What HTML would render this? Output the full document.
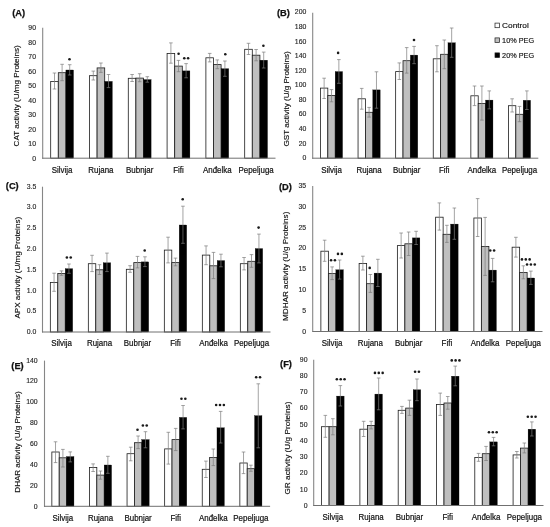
<!DOCTYPE html>
<html><head><meta charset="utf-8"><title>Figure</title>
<style>
html,body{margin:0;padding:0;background:#fff;}
svg{display:block;will-change:transform;opacity:0.9999;}
svg text{font-family:"Liberation Sans",sans-serif;}
.tk{font-size:7.4px;fill:#262626;text-anchor:end;stroke:#262626;stroke-width:0.15px;}
.lb{font-size:8.4px;fill:#111111;text-anchor:middle;stroke:#111;stroke-width:0.2px;}
.ti{font-size:8.0px;fill:#111111;text-anchor:middle;stroke:#111;stroke-width:0.15px;}
.tg{font-size:9.3px;fill:#111;font-weight:bold;stroke:#111;stroke-width:0.25px;}
.lg{font-size:7.9px;fill:#111;stroke:#111;stroke-width:0.15px;}
</style></head>
<body>
<svg width="550" height="527" viewBox="0 0 550 527">
<rect x="0" y="0" width="550" height="527" fill="#ffffff"/>
<g id="panelA">
<rect x="50.69" y="81.4" width="7.6" height="76.8" fill="#ffffff" stroke="#1c1c1c" stroke-width="0.8"/>
<rect x="58.3" y="72.7" width="7.6" height="85.5" fill="#bfbfbf" stroke="#1c1c1c" stroke-width="0.8"/>
<rect x="65.9" y="70" width="7.6" height="88.2" fill="#000000" stroke="#000" stroke-width="0.3"/>
<path d="M54.5 73V89M52.7 73H56.3M52.7 89H56.3" stroke="#7c7c7c" stroke-width="0.7" fill="none"/>
<path d="M62.1 64.3V80.7M60.3 64.3H63.9M60.3 80.7H63.9" stroke="#7c7c7c" stroke-width="0.7" fill="none"/>
<path d="M69.7 64.7V75M67.9 64.7H71.5M67.9 75H71.5" stroke="#7c7c7c" stroke-width="0.7" fill="none"/>
<rect x="89.49" y="75.7" width="7.6" height="82.5" fill="#ffffff" stroke="#1c1c1c" stroke-width="0.8"/>
<rect x="97.1" y="67.9" width="7.6" height="90.3" fill="#bfbfbf" stroke="#1c1c1c" stroke-width="0.8"/>
<rect x="104.7" y="81.4" width="7.6" height="76.8" fill="#000000" stroke="#000" stroke-width="0.3"/>
<path d="M93.3 71.1V80M91.5 71.1H95.1M91.5 80H95.1" stroke="#7c7c7c" stroke-width="0.7" fill="none"/>
<path d="M100.9 63V72.4M99.1 63H102.7M99.1 72.4H102.7" stroke="#7c7c7c" stroke-width="0.7" fill="none"/>
<path d="M108.5 74.5V87.6M106.7 74.5H110.3M106.7 87.6H110.3" stroke="#7c7c7c" stroke-width="0.7" fill="none"/>
<rect x="128.29" y="78.3" width="7.6" height="79.9" fill="#ffffff" stroke="#1c1c1c" stroke-width="0.8"/>
<rect x="135.9" y="78.1" width="7.6" height="80.1" fill="#bfbfbf" stroke="#1c1c1c" stroke-width="0.8"/>
<rect x="143.5" y="79.6" width="7.6" height="78.6" fill="#000000" stroke="#000" stroke-width="0.3"/>
<path d="M132.1 74.5V81.5M130.3 74.5H133.9M130.3 81.5H133.9" stroke="#7c7c7c" stroke-width="0.7" fill="none"/>
<path d="M139.7 73.7V81.7M137.9 73.7H141.5M137.9 81.7H141.5" stroke="#7c7c7c" stroke-width="0.7" fill="none"/>
<path d="M147.3 76.7V82.2M145.5 76.7H149.1M145.5 82.2H149.1" stroke="#7c7c7c" stroke-width="0.7" fill="none"/>
<rect x="167.09" y="53.5" width="7.6" height="104.7" fill="#ffffff" stroke="#1c1c1c" stroke-width="0.8"/>
<rect x="174.7" y="66.1" width="7.6" height="92.1" fill="#bfbfbf" stroke="#1c1c1c" stroke-width="0.8"/>
<rect x="182.3" y="70.9" width="7.6" height="87.3" fill="#000000" stroke="#000" stroke-width="0.3"/>
<path d="M170.9 42.9V63.2M169.1 42.9H172.7M169.1 63.2H172.7" stroke="#7c7c7c" stroke-width="0.7" fill="none"/>
<path d="M178.5 60.4V71.7M176.7 60.4H180.3M176.7 71.7H180.3" stroke="#7c7c7c" stroke-width="0.7" fill="none"/>
<path d="M186.1 63.6V77.8M184.3 63.6H187.9M184.3 77.8H187.9" stroke="#7c7c7c" stroke-width="0.7" fill="none"/>
<rect x="205.89" y="57.8" width="7.6" height="100.4" fill="#ffffff" stroke="#1c1c1c" stroke-width="0.8"/>
<rect x="213.5" y="64.6" width="7.6" height="93.6" fill="#bfbfbf" stroke="#1c1c1c" stroke-width="0.8"/>
<rect x="221.1" y="68.7" width="7.6" height="89.5" fill="#000000" stroke="#000" stroke-width="0.3"/>
<path d="M209.7 53.4V61.9M207.9 53.4H211.5M207.9 61.9H211.5" stroke="#7c7c7c" stroke-width="0.7" fill="none"/>
<path d="M217.3 59.9V68.7M215.5 59.9H219.1M215.5 68.7H219.1" stroke="#7c7c7c" stroke-width="0.7" fill="none"/>
<path d="M224.9 61V76.3M223.1 61H226.7M223.1 76.3H226.7" stroke="#7c7c7c" stroke-width="0.7" fill="none"/>
<rect x="244.69" y="49.3" width="7.6" height="108.9" fill="#ffffff" stroke="#1c1c1c" stroke-width="0.8"/>
<rect x="252.3" y="55.2" width="7.6" height="103" fill="#bfbfbf" stroke="#1c1c1c" stroke-width="0.8"/>
<rect x="259.9" y="60.2" width="7.6" height="98" fill="#000000" stroke="#000" stroke-width="0.3"/>
<path d="M248.5 43.3V54.5M246.7 43.3H250.3M246.7 54.5H250.3" stroke="#7c7c7c" stroke-width="0.7" fill="none"/>
<path d="M256.1 49.5V60.8M254.3 49.5H257.9M254.3 60.8H257.9" stroke="#7c7c7c" stroke-width="0.7" fill="none"/>
<path d="M263.7 52.1V68M261.9 52.1H265.5M261.9 68H265.5" stroke="#7c7c7c" stroke-width="0.7" fill="none"/>
<path d="M42.7 27.8V158.7" stroke="#868686" stroke-width="1.1" fill="none"/>
<path d="M42.25 158.2H275.5" stroke="#707070" stroke-width="1" fill="none"/>
<text class="tk" transform="translate(36 161) scale(0.93 1)">0</text>
<text class="tk" transform="translate(36 146.48) scale(0.93 1)">10</text>
<text class="tk" transform="translate(36 131.96) scale(0.93 1)">20</text>
<text class="tk" transform="translate(36 117.43) scale(0.93 1)">30</text>
<text class="tk" transform="translate(36 102.91) scale(0.93 1)">40</text>
<text class="tk" transform="translate(36 88.39) scale(0.93 1)">50</text>
<text class="tk" transform="translate(36 73.87) scale(0.93 1)">60</text>
<text class="tk" transform="translate(36 59.34) scale(0.93 1)">70</text>
<text class="tk" transform="translate(36 44.82) scale(0.93 1)">80</text>
<text class="tk" transform="translate(36 30.3) scale(0.93 1)">90</text>
<text class="lb" transform="translate(62.1 173.2) scale(0.945 1)">Silvija</text>
<text class="lb" transform="translate(100.9 173.2) scale(0.945 1)">Rujana</text>
<text class="lb" transform="translate(139.7 173.2) scale(0.945 1)">Bubnjar</text>
<text class="lb" transform="translate(178.5 173.2) scale(0.945 1)">Fifi</text>
<text class="lb" transform="translate(217.3 173.2) scale(0.945 1)">Anđelka</text>
<text class="lb" transform="translate(256.1 173.2) scale(0.945 1)">Pepeljuga</text>
<text class="ti" textLength="101" lengthAdjust="spacingAndGlyphs" transform="translate(19.1 95.9) rotate(-90)">CAT activity (U/mg Proteins)</text>
<text class="tg" x="12.2" y="15.6">(A)</text>
<circle cx="69.5" cy="59.3" r="1.3" fill="#1a1a1a"/>
<circle cx="178.6" cy="53.8" r="1.3" fill="#1a1a1a"/>
<circle cx="184.27" cy="58.2" r="1.3" fill="#1a1a1a"/>
<circle cx="188.12" cy="58.2" r="1.3" fill="#1a1a1a"/>
<circle cx="225.3" cy="54.3" r="1.3" fill="#1a1a1a"/>
<circle cx="263.4" cy="45.7" r="1.3" fill="#1a1a1a"/>
</g>
<g id="panelB">
<rect x="320.45" y="88.1" width="7.37" height="70.1" fill="#ffffff" stroke="#1c1c1c" stroke-width="0.8"/>
<rect x="327.82" y="95.5" width="7.37" height="62.7" fill="#bfbfbf" stroke="#1c1c1c" stroke-width="0.8"/>
<rect x="335.18" y="71.6" width="7.37" height="86.6" fill="#000000" stroke="#000" stroke-width="0.3"/>
<path d="M324.13 78.2V98.5M322.33 78.2H325.93M322.33 98.5H325.93" stroke="#7c7c7c" stroke-width="0.7" fill="none"/>
<path d="M331.5 89.6V101.8M329.7 89.6H333.3M329.7 101.8H333.3" stroke="#7c7c7c" stroke-width="0.7" fill="none"/>
<path d="M338.87 59.6V83.3M337.07 59.6H340.67M337.07 83.3H340.67" stroke="#7c7c7c" stroke-width="0.7" fill="none"/>
<rect x="358.05" y="98.8" width="7.37" height="59.4" fill="#ffffff" stroke="#1c1c1c" stroke-width="0.8"/>
<rect x="365.42" y="112.3" width="7.37" height="45.9" fill="#bfbfbf" stroke="#1c1c1c" stroke-width="0.8"/>
<rect x="372.78" y="89.9" width="7.37" height="68.3" fill="#000000" stroke="#000" stroke-width="0.3"/>
<path d="M361.73 88.4V109.2M359.93 88.4H363.53M359.93 109.2H363.53" stroke="#7c7c7c" stroke-width="0.7" fill="none"/>
<path d="M369.1 107.4V117.1M367.3 107.4H370.9M367.3 117.1H370.9" stroke="#7c7c7c" stroke-width="0.7" fill="none"/>
<path d="M376.47 71.8V108.2M374.67 71.8H378.27M374.67 108.2H378.27" stroke="#7c7c7c" stroke-width="0.7" fill="none"/>
<rect x="395.65" y="71.6" width="7.37" height="86.6" fill="#ffffff" stroke="#1c1c1c" stroke-width="0.8"/>
<rect x="403.02" y="60.7" width="7.37" height="97.5" fill="#bfbfbf" stroke="#1c1c1c" stroke-width="0.8"/>
<rect x="410.38" y="55.1" width="7.37" height="103.1" fill="#000000" stroke="#000" stroke-width="0.3"/>
<path d="M399.33 62.9V79.5M397.53 62.9H401.13M397.53 79.5H401.13" stroke="#7c7c7c" stroke-width="0.7" fill="none"/>
<path d="M406.7 47.6V73.1M404.9 47.6H408.5M404.9 73.1H408.5" stroke="#7c7c7c" stroke-width="0.7" fill="none"/>
<path d="M414.07 46.4V63.7M412.27 46.4H415.87M412.27 63.7H415.87" stroke="#7c7c7c" stroke-width="0.7" fill="none"/>
<rect x="433.25" y="58.8" width="7.37" height="99.4" fill="#ffffff" stroke="#1c1c1c" stroke-width="0.8"/>
<rect x="440.62" y="54.3" width="7.37" height="103.9" fill="#bfbfbf" stroke="#1c1c1c" stroke-width="0.8"/>
<rect x="447.98" y="42.8" width="7.37" height="115.4" fill="#000000" stroke="#000" stroke-width="0.3"/>
<path d="M436.93 45.7V71.8M435.13 45.7H438.73M435.13 71.8H438.73" stroke="#7c7c7c" stroke-width="0.7" fill="none"/>
<path d="M444.3 40V68.7M442.5 40H446.1M442.5 68.7H446.1" stroke="#7c7c7c" stroke-width="0.7" fill="none"/>
<path d="M451.67 28V57.3M449.87 28H453.47M449.87 57.3H453.47" stroke="#7c7c7c" stroke-width="0.7" fill="none"/>
<rect x="470.85" y="95.8" width="7.37" height="62.4" fill="#ffffff" stroke="#1c1c1c" stroke-width="0.8"/>
<rect x="478.22" y="103.4" width="7.37" height="54.8" fill="#bfbfbf" stroke="#1c1c1c" stroke-width="0.8"/>
<rect x="485.58" y="100.1" width="7.37" height="58.1" fill="#000000" stroke="#000" stroke-width="0.3"/>
<path d="M474.53 86V105.6M472.73 86H476.33M472.73 105.6H476.33" stroke="#7c7c7c" stroke-width="0.7" fill="none"/>
<path d="M481.9 86V120.1M480.1 86H483.7M480.1 120.1H483.7" stroke="#7c7c7c" stroke-width="0.7" fill="none"/>
<path d="M489.27 90.9V108.9M487.47 90.9H491.07M487.47 108.9H491.07" stroke="#7c7c7c" stroke-width="0.7" fill="none"/>
<rect x="508.45" y="105.7" width="7.37" height="52.5" fill="#ffffff" stroke="#1c1c1c" stroke-width="0.8"/>
<rect x="515.82" y="114.3" width="7.37" height="43.9" fill="#bfbfbf" stroke="#1c1c1c" stroke-width="0.8"/>
<rect x="523.18" y="100.3" width="7.37" height="57.9" fill="#000000" stroke="#000" stroke-width="0.3"/>
<path d="M512.13 98.8V112M510.33 98.8H513.93M510.33 112H513.93" stroke="#7c7c7c" stroke-width="0.7" fill="none"/>
<path d="M519.5 106.4V121.7M517.7 106.4H521.3M517.7 121.7H521.3" stroke="#7c7c7c" stroke-width="0.7" fill="none"/>
<path d="M526.87 90.9V109.5M525.07 90.9H528.67M525.07 109.5H528.67" stroke="#7c7c7c" stroke-width="0.7" fill="none"/>
<path d="M312.7 12.8V158.7" stroke="#868686" stroke-width="1.1" fill="none"/>
<path d="M312.25 158.2H538.3" stroke="#707070" stroke-width="1" fill="none"/>
<text class="tk" transform="translate(306.3 160.1) scale(0.93 1)">0</text>
<text class="tk" transform="translate(306.3 145.53) scale(0.93 1)">20</text>
<text class="tk" transform="translate(306.3 130.96) scale(0.93 1)">40</text>
<text class="tk" transform="translate(306.3 116.39) scale(0.93 1)">60</text>
<text class="tk" transform="translate(306.3 101.82) scale(0.93 1)">80</text>
<text class="tk" transform="translate(306.3 87.25) scale(0.93 1)">100</text>
<text class="tk" transform="translate(306.3 72.68) scale(0.93 1)">120</text>
<text class="tk" transform="translate(306.3 58.11) scale(0.93 1)">140</text>
<text class="tk" transform="translate(306.3 43.54) scale(0.93 1)">160</text>
<text class="tk" transform="translate(306.3 28.97) scale(0.93 1)">180</text>
<text class="tk" transform="translate(306.3 14.4) scale(0.93 1)">200</text>
<text class="lb" transform="translate(331.5 173.2) scale(0.945 1)">Silvija</text>
<text class="lb" transform="translate(369.1 173.2) scale(0.945 1)">Rujana</text>
<text class="lb" transform="translate(406.7 173.2) scale(0.945 1)">Bubnjar</text>
<text class="lb" transform="translate(444.3 173.2) scale(0.945 1)">Fifi</text>
<text class="lb" transform="translate(481.9 173.2) scale(0.945 1)">Anđelka</text>
<text class="lb" transform="translate(519.5 173.2) scale(0.945 1)">Pepeljuga</text>
<text class="ti" textLength="95.2" lengthAdjust="spacingAndGlyphs" transform="translate(288.5 98.9) rotate(-90)">GST activity (U/g Proteins)</text>
<text class="tg" x="277" y="15.9">(B)</text>
<circle cx="338.1" cy="52.9" r="1.3" fill="#1a1a1a"/>
<circle cx="414" cy="40" r="1.3" fill="#1a1a1a"/>
</g>
<g id="panelC">
<rect x="50.33" y="282.4" width="7.45" height="49.6" fill="#ffffff" stroke="#1c1c1c" stroke-width="0.8"/>
<rect x="57.78" y="273.5" width="7.45" height="58.5" fill="#bfbfbf" stroke="#1c1c1c" stroke-width="0.8"/>
<rect x="65.22" y="268.7" width="7.45" height="63.3" fill="#000000" stroke="#000" stroke-width="0.3"/>
<path d="M54.05 273.2V291.3M52.25 273.2H55.85M52.25 291.3H55.85" stroke="#7c7c7c" stroke-width="0.7" fill="none"/>
<path d="M61.5 270.9V275.3M59.7 270.9H63.3M59.7 275.3H63.3" stroke="#7c7c7c" stroke-width="0.7" fill="none"/>
<path d="M68.95 264V273.3M67.15 264H70.75M67.15 273.3H70.75" stroke="#7c7c7c" stroke-width="0.7" fill="none"/>
<rect x="88.33" y="263.7" width="7.45" height="68.3" fill="#ffffff" stroke="#1c1c1c" stroke-width="0.8"/>
<rect x="95.78" y="269.8" width="7.45" height="62.2" fill="#bfbfbf" stroke="#1c1c1c" stroke-width="0.8"/>
<rect x="103.22" y="262.8" width="7.45" height="69.2" fill="#000000" stroke="#000" stroke-width="0.3"/>
<path d="M92.05 255.3V271.6M90.25 255.3H93.85M90.25 271.6H93.85" stroke="#7c7c7c" stroke-width="0.7" fill="none"/>
<path d="M99.5 264.7V274.5M97.7 264.7H101.3M97.7 274.5H101.3" stroke="#7c7c7c" stroke-width="0.7" fill="none"/>
<path d="M106.95 253.1V271.6M105.15 253.1H108.75M105.15 271.6H108.75" stroke="#7c7c7c" stroke-width="0.7" fill="none"/>
<rect x="126.33" y="269.3" width="7.45" height="62.7" fill="#ffffff" stroke="#1c1c1c" stroke-width="0.8"/>
<rect x="133.78" y="262.6" width="7.45" height="69.4" fill="#bfbfbf" stroke="#1c1c1c" stroke-width="0.8"/>
<rect x="141.22" y="261.9" width="7.45" height="70.1" fill="#000000" stroke="#000" stroke-width="0.3"/>
<path d="M130.05 265.7V272.3M128.25 265.7H131.85M128.25 272.3H131.85" stroke="#7c7c7c" stroke-width="0.7" fill="none"/>
<path d="M137.5 256.4V267.9M135.7 256.4H139.3M135.7 267.9H139.3" stroke="#7c7c7c" stroke-width="0.7" fill="none"/>
<path d="M144.95 256.8V266.6M143.15 256.8H146.75M143.15 266.6H146.75" stroke="#7c7c7c" stroke-width="0.7" fill="none"/>
<rect x="164.33" y="250.1" width="7.45" height="81.9" fill="#ffffff" stroke="#1c1c1c" stroke-width="0.8"/>
<rect x="171.78" y="262.6" width="7.45" height="69.4" fill="#bfbfbf" stroke="#1c1c1c" stroke-width="0.8"/>
<rect x="179.22" y="225" width="7.45" height="107" fill="#000000" stroke="#000" stroke-width="0.3"/>
<path d="M168.05 237.2V262.9M166.25 237.2H169.85M166.25 262.9H169.85" stroke="#7c7c7c" stroke-width="0.7" fill="none"/>
<path d="M175.5 258.1V265.8M173.7 258.1H177.3M173.7 265.8H177.3" stroke="#7c7c7c" stroke-width="0.7" fill="none"/>
<path d="M182.95 206.2V243.3M181.15 206.2H184.75M181.15 243.3H184.75" stroke="#7c7c7c" stroke-width="0.7" fill="none"/>
<rect x="202.33" y="255.1" width="7.45" height="76.9" fill="#ffffff" stroke="#1c1c1c" stroke-width="0.8"/>
<rect x="209.78" y="265.8" width="7.45" height="66.2" fill="#bfbfbf" stroke="#1c1c1c" stroke-width="0.8"/>
<rect x="217.22" y="260.6" width="7.45" height="71.4" fill="#000000" stroke="#000" stroke-width="0.3"/>
<path d="M206.05 245.9V264.7M204.25 245.9H207.85M204.25 264.7H207.85" stroke="#7c7c7c" stroke-width="0.7" fill="none"/>
<path d="M213.5 252.4V278.6M211.7 252.4H215.3M211.7 278.6H215.3" stroke="#7c7c7c" stroke-width="0.7" fill="none"/>
<path d="M220.95 254.2V266.8M219.15 254.2H222.75M219.15 266.8H222.75" stroke="#7c7c7c" stroke-width="0.7" fill="none"/>
<rect x="240.33" y="263.7" width="7.45" height="68.3" fill="#ffffff" stroke="#1c1c1c" stroke-width="0.8"/>
<rect x="247.78" y="261.3" width="7.45" height="70.7" fill="#bfbfbf" stroke="#1c1c1c" stroke-width="0.8"/>
<rect x="255.22" y="248.6" width="7.45" height="83.4" fill="#000000" stroke="#000" stroke-width="0.3"/>
<path d="M244.05 257.5V269.9M242.25 257.5H245.85M242.25 269.9H245.85" stroke="#7c7c7c" stroke-width="0.7" fill="none"/>
<path d="M251.5 254.6V267.3M249.7 254.6H253.3M249.7 267.3H253.3" stroke="#7c7c7c" stroke-width="0.7" fill="none"/>
<path d="M258.95 234.1V262.9M257.15 234.1H260.75M257.15 262.9H260.75" stroke="#7c7c7c" stroke-width="0.7" fill="none"/>
<path d="M42.5 186.7V332.5" stroke="#868686" stroke-width="1.1" fill="none"/>
<path d="M42.05 332H270.5" stroke="#707070" stroke-width="1" fill="none"/>
<text class="tk" transform="translate(36.3 334.1) scale(0.93 1)">0.0</text>
<text class="tk" transform="translate(36.3 313.3) scale(0.93 1)">0.5</text>
<text class="tk" transform="translate(36.3 292.5) scale(0.93 1)">1.0</text>
<text class="tk" transform="translate(36.3 271.7) scale(0.93 1)">1.5</text>
<text class="tk" transform="translate(36.3 250.9) scale(0.93 1)">2.0</text>
<text class="tk" transform="translate(36.3 230.1) scale(0.93 1)">2.5</text>
<text class="tk" transform="translate(36.3 209.3) scale(0.93 1)">3.0</text>
<text class="tk" transform="translate(36.3 188.5) scale(0.93 1)">3.5</text>
<text class="lb" transform="translate(61.5 345.9) scale(0.945 1)">Silvija</text>
<text class="lb" transform="translate(99.5 345.9) scale(0.945 1)">Rujana</text>
<text class="lb" transform="translate(137.5 345.9) scale(0.945 1)">Bubnjar</text>
<text class="lb" transform="translate(175.5 345.9) scale(0.945 1)">Fifi</text>
<text class="lb" transform="translate(213.5 345.9) scale(0.945 1)">Anđelka</text>
<text class="lb" transform="translate(251.5 345.9) scale(0.945 1)">Pepeljuga</text>
<text class="ti" textLength="101.6" lengthAdjust="spacingAndGlyphs" transform="translate(20.4 267.7) rotate(-90)">APX activity (U/mg Proteins)</text>
<text class="tg" x="5.8" y="189.4">(C)</text>
<circle cx="66.88" cy="257.5" r="1.3" fill="#1a1a1a"/>
<circle cx="70.72" cy="257.5" r="1.3" fill="#1a1a1a"/>
<circle cx="144.7" cy="250.5" r="1.3" fill="#1a1a1a"/>
<circle cx="182.7" cy="199.2" r="1.3" fill="#1a1a1a"/>
<circle cx="258.6" cy="227.6" r="1.3" fill="#1a1a1a"/>
</g>
<g id="panelD">
<rect x="320.88" y="251.2" width="7.5" height="80.3" fill="#ffffff" stroke="#1c1c1c" stroke-width="0.8"/>
<rect x="328.38" y="273.6" width="7.5" height="57.9" fill="#bfbfbf" stroke="#1c1c1c" stroke-width="0.8"/>
<rect x="335.87" y="269.8" width="7.5" height="61.7" fill="#000000" stroke="#000" stroke-width="0.3"/>
<path d="M324.63 240.2V261.3M322.83 240.2H326.43M322.83 261.3H326.43" stroke="#7c7c7c" stroke-width="0.7" fill="none"/>
<path d="M332.12 266.9V279.6M330.32 266.9H333.93M330.32 279.6H333.93" stroke="#7c7c7c" stroke-width="0.7" fill="none"/>
<path d="M339.62 260V279.1M337.82 260H341.42M337.82 279.1H341.42" stroke="#7c7c7c" stroke-width="0.7" fill="none"/>
<rect x="359.13" y="263.4" width="7.5" height="68.1" fill="#ffffff" stroke="#1c1c1c" stroke-width="0.8"/>
<rect x="366.63" y="283.7" width="7.5" height="47.8" fill="#bfbfbf" stroke="#1c1c1c" stroke-width="0.8"/>
<rect x="374.12" y="273.1" width="7.5" height="58.4" fill="#000000" stroke="#000" stroke-width="0.3"/>
<path d="M362.88 256.2V270M361.08 256.2H364.68M361.08 270H364.68" stroke="#7c7c7c" stroke-width="0.7" fill="none"/>
<path d="M370.38 274.5V292.4M368.57 274.5H372.18M368.57 292.4H372.18" stroke="#7c7c7c" stroke-width="0.7" fill="none"/>
<path d="M377.87 259.3V286.5M376.07 259.3H379.67M376.07 286.5H379.67" stroke="#7c7c7c" stroke-width="0.7" fill="none"/>
<rect x="397.38" y="245.6" width="7.5" height="85.9" fill="#ffffff" stroke="#1c1c1c" stroke-width="0.8"/>
<rect x="404.88" y="243.8" width="7.5" height="87.7" fill="#bfbfbf" stroke="#1c1c1c" stroke-width="0.8"/>
<rect x="412.37" y="237.9" width="7.5" height="93.6" fill="#000000" stroke="#000" stroke-width="0.3"/>
<path d="M401.13 233V258M399.33 233H402.93M399.33 258H402.93" stroke="#7c7c7c" stroke-width="0.7" fill="none"/>
<path d="M408.62 232V255.5M406.82 232H410.43M406.82 255.5H410.43" stroke="#7c7c7c" stroke-width="0.7" fill="none"/>
<path d="M416.12 231.3V244.5M414.32 231.3H417.92M414.32 244.5H417.92" stroke="#7c7c7c" stroke-width="0.7" fill="none"/>
<rect x="435.63" y="217.2" width="7.5" height="114.3" fill="#ffffff" stroke="#1c1c1c" stroke-width="0.8"/>
<rect x="443.13" y="234.3" width="7.5" height="97.2" fill="#bfbfbf" stroke="#1c1c1c" stroke-width="0.8"/>
<rect x="450.62" y="224.1" width="7.5" height="107.4" fill="#000000" stroke="#000" stroke-width="0.3"/>
<path d="M439.38 202.9V230.1M437.58 202.9H441.18M437.58 230.1H441.18" stroke="#7c7c7c" stroke-width="0.7" fill="none"/>
<path d="M446.88 225.3V242.4M445.07 225.3H448.68M445.07 242.4H448.68" stroke="#7c7c7c" stroke-width="0.7" fill="none"/>
<path d="M454.37 208V239.3M452.57 208H456.17M452.57 239.3H456.17" stroke="#7c7c7c" stroke-width="0.7" fill="none"/>
<rect x="473.88" y="218" width="7.5" height="113.5" fill="#ffffff" stroke="#1c1c1c" stroke-width="0.8"/>
<rect x="481.38" y="246.5" width="7.5" height="85" fill="#bfbfbf" stroke="#1c1c1c" stroke-width="0.8"/>
<rect x="488.87" y="270.1" width="7.5" height="61.4" fill="#000000" stroke="#000" stroke-width="0.3"/>
<path d="M477.63 198.6V236.5M475.83 198.6H479.43M475.83 236.5H479.43" stroke="#7c7c7c" stroke-width="0.7" fill="none"/>
<path d="M485.12 217.4V275.4M483.32 217.4H486.93M483.32 275.4H486.93" stroke="#7c7c7c" stroke-width="0.7" fill="none"/>
<path d="M492.62 258.4V281.8M490.82 258.4H494.42M490.82 281.8H494.42" stroke="#7c7c7c" stroke-width="0.7" fill="none"/>
<rect x="512.13" y="247.2" width="7.5" height="84.3" fill="#ffffff" stroke="#1c1c1c" stroke-width="0.8"/>
<rect x="519.63" y="272.4" width="7.5" height="59.1" fill="#bfbfbf" stroke="#1c1c1c" stroke-width="0.8"/>
<rect x="527.12" y="278" width="7.5" height="53.5" fill="#000000" stroke="#000" stroke-width="0.3"/>
<path d="M515.88 237.3V257.1M514.08 237.3H517.68M514.08 257.1H517.68" stroke="#7c7c7c" stroke-width="0.7" fill="none"/>
<path d="M523.38 265.8V278.8M521.58 265.8H525.17M521.58 278.8H525.17" stroke="#7c7c7c" stroke-width="0.7" fill="none"/>
<path d="M530.87 271.1V284.4M529.07 271.1H532.67M529.07 284.4H532.67" stroke="#7c7c7c" stroke-width="0.7" fill="none"/>
<path d="M312.7 185.9V332" stroke="#868686" stroke-width="1.1" fill="none"/>
<path d="M312.55 331.5H542.5" stroke="#707070" stroke-width="1" fill="none"/>
<text class="tk" transform="translate(306.1 333.8) scale(0.93 1)">0</text>
<text class="tk" transform="translate(306.1 312.96) scale(0.93 1)">5</text>
<text class="tk" transform="translate(306.1 292.11) scale(0.93 1)">10</text>
<text class="tk" transform="translate(306.1 271.27) scale(0.93 1)">15</text>
<text class="tk" transform="translate(306.1 250.43) scale(0.93 1)">20</text>
<text class="tk" transform="translate(306.1 229.59) scale(0.93 1)">25</text>
<text class="tk" transform="translate(306.1 208.74) scale(0.93 1)">30</text>
<text class="tk" transform="translate(306.1 187.9) scale(0.93 1)">35</text>
<text class="lb" transform="translate(332.12 345.7) scale(0.945 1)">Silvija</text>
<text class="lb" transform="translate(370.38 345.7) scale(0.945 1)">Rujana</text>
<text class="lb" transform="translate(408.62 345.7) scale(0.945 1)">Bubnjar</text>
<text class="lb" transform="translate(446.88 345.7) scale(0.945 1)">Fifi</text>
<text class="lb" transform="translate(485.12 345.7) scale(0.945 1)">Anđelka</text>
<text class="lb" transform="translate(523.38 345.7) scale(0.945 1)">Pepeljuga</text>
<text class="ti" textLength="109.3" lengthAdjust="spacingAndGlyphs" transform="translate(287.9 266.3) rotate(-90)">MDHAR activity (U/g Proteins)</text>
<text class="tg" x="279" y="190.1">(D)</text>
<circle cx="331.07" cy="260.3" r="1.3" fill="#1a1a1a"/>
<circle cx="334.93" cy="260.3" r="1.3" fill="#1a1a1a"/>
<circle cx="337.97" cy="253.9" r="1.3" fill="#1a1a1a"/>
<circle cx="341.82" cy="253.9" r="1.3" fill="#1a1a1a"/>
<circle cx="369.7" cy="267.9" r="1.3" fill="#1a1a1a"/>
<circle cx="490.27" cy="250.5" r="1.3" fill="#1a1a1a"/>
<circle cx="494.12" cy="250.5" r="1.3" fill="#1a1a1a"/>
<circle cx="521.95" cy="259.4" r="1.3" fill="#1a1a1a"/>
<circle cx="525.8" cy="259.4" r="1.3" fill="#1a1a1a"/>
<circle cx="529.65" cy="259.4" r="1.3" fill="#1a1a1a"/>
<circle cx="527.05" cy="264.5" r="1.3" fill="#1a1a1a"/>
<circle cx="530.9" cy="264.5" r="1.3" fill="#1a1a1a"/>
<circle cx="534.75" cy="264.5" r="1.3" fill="#1a1a1a"/>
</g>
<g id="panelE">
<rect x="51.85" y="452" width="7.37" height="54.3" fill="#ffffff" stroke="#1c1c1c" stroke-width="0.8"/>
<rect x="59.22" y="457.8" width="7.37" height="48.5" fill="#bfbfbf" stroke="#1c1c1c" stroke-width="0.8"/>
<rect x="66.58" y="456.6" width="7.37" height="49.7" fill="#000000" stroke="#000" stroke-width="0.3"/>
<path d="M55.53 441.8V462.6M53.73 441.8H57.33M53.73 462.6H57.33" stroke="#7c7c7c" stroke-width="0.7" fill="none"/>
<path d="M62.9 449.4V467M61.1 449.4H64.7M61.1 467H64.7" stroke="#7c7c7c" stroke-width="0.7" fill="none"/>
<path d="M70.27 451.9V461.9M68.47 451.9H72.07M68.47 461.9H72.07" stroke="#7c7c7c" stroke-width="0.7" fill="none"/>
<rect x="89.45" y="467.5" width="7.37" height="38.8" fill="#ffffff" stroke="#1c1c1c" stroke-width="0.8"/>
<rect x="96.82" y="475.1" width="7.37" height="31.2" fill="#bfbfbf" stroke="#1c1c1c" stroke-width="0.8"/>
<rect x="104.18" y="465" width="7.37" height="41.3" fill="#000000" stroke="#000" stroke-width="0.3"/>
<path d="M93.13 463.9V471.5M91.33 463.9H94.93M91.33 471.5H94.93" stroke="#7c7c7c" stroke-width="0.7" fill="none"/>
<path d="M100.5 471V479.2M98.7 471H102.3M98.7 479.2H102.3" stroke="#7c7c7c" stroke-width="0.7" fill="none"/>
<path d="M107.87 456.3V473.3M106.07 456.3H109.67M106.07 473.3H109.67" stroke="#7c7c7c" stroke-width="0.7" fill="none"/>
<rect x="127.05" y="453.7" width="7.37" height="52.6" fill="#ffffff" stroke="#1c1c1c" stroke-width="0.8"/>
<rect x="134.42" y="442.7" width="7.37" height="63.6" fill="#bfbfbf" stroke="#1c1c1c" stroke-width="0.8"/>
<rect x="141.78" y="439.6" width="7.37" height="66.7" fill="#000000" stroke="#000" stroke-width="0.3"/>
<path d="M130.73 447.2V460.8M128.93 447.2H132.53M128.93 460.8H132.53" stroke="#7c7c7c" stroke-width="0.7" fill="none"/>
<path d="M138.1 436V448.6M136.3 436H139.9M136.3 448.6H139.9" stroke="#7c7c7c" stroke-width="0.7" fill="none"/>
<path d="M145.47 431.7V447.8M143.67 431.7H147.27M143.67 447.8H147.27" stroke="#7c7c7c" stroke-width="0.7" fill="none"/>
<rect x="164.65" y="448.9" width="7.37" height="57.4" fill="#ffffff" stroke="#1c1c1c" stroke-width="0.8"/>
<rect x="172.02" y="439.6" width="7.37" height="66.7" fill="#bfbfbf" stroke="#1c1c1c" stroke-width="0.8"/>
<rect x="179.38" y="417.4" width="7.37" height="88.9" fill="#000000" stroke="#000" stroke-width="0.3"/>
<path d="M168.33 432.3V464.1M166.53 432.3H170.13M166.53 464.1H170.13" stroke="#7c7c7c" stroke-width="0.7" fill="none"/>
<path d="M175.7 428.4V450.6M173.9 428.4H177.5M173.9 450.6H177.5" stroke="#7c7c7c" stroke-width="0.7" fill="none"/>
<path d="M183.07 405.5V428.9M181.27 405.5H184.87M181.27 428.9H184.87" stroke="#7c7c7c" stroke-width="0.7" fill="none"/>
<rect x="202.25" y="469.3" width="7.37" height="37" fill="#ffffff" stroke="#1c1c1c" stroke-width="0.8"/>
<rect x="209.62" y="457.5" width="7.37" height="48.8" fill="#bfbfbf" stroke="#1c1c1c" stroke-width="0.8"/>
<rect x="216.98" y="427.8" width="7.37" height="78.5" fill="#000000" stroke="#000" stroke-width="0.3"/>
<path d="M205.93 461.1V477.5M204.13 461.1H207.73M204.13 477.5H207.73" stroke="#7c7c7c" stroke-width="0.7" fill="none"/>
<path d="M213.3 449V465.6M211.5 449H215.1M211.5 465.6H215.1" stroke="#7c7c7c" stroke-width="0.7" fill="none"/>
<path d="M220.67 411.4V443M218.87 411.4H222.47M218.87 443H222.47" stroke="#7c7c7c" stroke-width="0.7" fill="none"/>
<rect x="239.85" y="463" width="7.37" height="43.3" fill="#ffffff" stroke="#1c1c1c" stroke-width="0.8"/>
<rect x="247.22" y="468.7" width="7.37" height="37.6" fill="#bfbfbf" stroke="#1c1c1c" stroke-width="0.8"/>
<rect x="254.58" y="415.7" width="7.37" height="90.6" fill="#000000" stroke="#000" stroke-width="0.3"/>
<path d="M243.53 452V473.6M241.73 452H245.33M241.73 473.6H245.33" stroke="#7c7c7c" stroke-width="0.7" fill="none"/>
<path d="M250.9 465.2V471.3M249.1 465.2H252.7M249.1 471.3H252.7" stroke="#7c7c7c" stroke-width="0.7" fill="none"/>
<path d="M258.27 383.8V447.8M256.47 383.8H260.07M256.47 447.8H260.07" stroke="#7c7c7c" stroke-width="0.7" fill="none"/>
<path d="M44.5 360.6V506.8" stroke="#868686" stroke-width="1.1" fill="none"/>
<path d="M44.05 506.3H270.1" stroke="#707070" stroke-width="1" fill="none"/>
<text class="tk" transform="translate(37.6 508.5) scale(0.93 1)">0</text>
<text class="tk" transform="translate(37.6 487.64) scale(0.93 1)">20</text>
<text class="tk" transform="translate(37.6 466.79) scale(0.93 1)">40</text>
<text class="tk" transform="translate(37.6 445.93) scale(0.93 1)">60</text>
<text class="tk" transform="translate(37.6 425.07) scale(0.93 1)">80</text>
<text class="tk" transform="translate(37.6 404.21) scale(0.93 1)">100</text>
<text class="tk" transform="translate(37.6 383.36) scale(0.93 1)">120</text>
<text class="tk" transform="translate(37.6 362.5) scale(0.93 1)">140</text>
<text class="lb" transform="translate(62.9 521.2) scale(0.945 1)">Silvija</text>
<text class="lb" transform="translate(100.5 521.2) scale(0.945 1)">Rujana</text>
<text class="lb" transform="translate(138.1 521.2) scale(0.945 1)">Bubnjar</text>
<text class="lb" transform="translate(175.7 521.2) scale(0.945 1)">Fifi</text>
<text class="lb" transform="translate(213.3 521.2) scale(0.945 1)">Anđelka</text>
<text class="lb" transform="translate(250.9 521.2) scale(0.945 1)">Pepeljuga</text>
<text class="ti" textLength="101.3" lengthAdjust="spacingAndGlyphs" transform="translate(20.1 442) rotate(-90)">DHAR activity (U/g Proteins)</text>
<text class="tg" x="11.3" y="368.7">(E)</text>
<circle cx="137.5" cy="429.8" r="1.3" fill="#1a1a1a"/>
<circle cx="142.88" cy="425.5" r="1.3" fill="#1a1a1a"/>
<circle cx="146.73" cy="425.5" r="1.3" fill="#1a1a1a"/>
<circle cx="181.47" cy="398.8" r="1.3" fill="#1a1a1a"/>
<circle cx="185.33" cy="398.8" r="1.3" fill="#1a1a1a"/>
<circle cx="216.15" cy="405" r="1.3" fill="#1a1a1a"/>
<circle cx="220" cy="405" r="1.3" fill="#1a1a1a"/>
<circle cx="223.85" cy="405" r="1.3" fill="#1a1a1a"/>
<circle cx="256.18" cy="377.3" r="1.3" fill="#1a1a1a"/>
<circle cx="260.03" cy="377.3" r="1.3" fill="#1a1a1a"/>
</g>
<g id="panelF">
<rect x="321.59" y="426.7" width="7.51" height="78.8" fill="#ffffff" stroke="#1c1c1c" stroke-width="0.8"/>
<rect x="329.1" y="426.7" width="7.51" height="78.8" fill="#bfbfbf" stroke="#1c1c1c" stroke-width="0.8"/>
<rect x="336.6" y="396.1" width="7.51" height="109.4" fill="#000000" stroke="#000" stroke-width="0.3"/>
<path d="M325.34 415.4V437.3M323.54 415.4H327.14M323.54 437.3H327.14" stroke="#7c7c7c" stroke-width="0.7" fill="none"/>
<path d="M332.85 418.7V434.8M331.05 418.7H334.65M331.05 434.8H334.65" stroke="#7c7c7c" stroke-width="0.7" fill="none"/>
<path d="M340.36 385.6V406M338.56 385.6H342.16M338.56 406H342.16" stroke="#7c7c7c" stroke-width="0.7" fill="none"/>
<rect x="359.89" y="429.2" width="7.51" height="76.3" fill="#ffffff" stroke="#1c1c1c" stroke-width="0.8"/>
<rect x="367.4" y="425.4" width="7.51" height="80.1" fill="#bfbfbf" stroke="#1c1c1c" stroke-width="0.8"/>
<rect x="374.9" y="394.1" width="7.51" height="111.4" fill="#000000" stroke="#000" stroke-width="0.3"/>
<path d="M363.64 421.3V436.5M361.84 421.3H365.44M361.84 436.5H365.44" stroke="#7c7c7c" stroke-width="0.7" fill="none"/>
<path d="M371.15 421.3V428.9M369.35 421.3H372.95M369.35 428.9H372.95" stroke="#7c7c7c" stroke-width="0.7" fill="none"/>
<path d="M378.66 378V409.8M376.86 378H380.46M376.86 409.8H380.46" stroke="#7c7c7c" stroke-width="0.7" fill="none"/>
<rect x="398.19" y="410.3" width="7.51" height="95.2" fill="#ffffff" stroke="#1c1c1c" stroke-width="0.8"/>
<rect x="405.7" y="408.1" width="7.51" height="97.4" fill="#bfbfbf" stroke="#1c1c1c" stroke-width="0.8"/>
<rect x="413.2" y="389.8" width="7.51" height="115.7" fill="#000000" stroke="#000" stroke-width="0.3"/>
<path d="M401.94 406.4V413.4M400.14 406.4H403.74M400.14 413.4H403.74" stroke="#7c7c7c" stroke-width="0.7" fill="none"/>
<path d="M409.45 400.2V415.4M407.65 400.2H411.25M407.65 415.4H411.25" stroke="#7c7c7c" stroke-width="0.7" fill="none"/>
<path d="M416.96 379V400.7M415.16 379H418.76M415.16 400.7H418.76" stroke="#7c7c7c" stroke-width="0.7" fill="none"/>
<rect x="436.49" y="404.4" width="7.51" height="101.1" fill="#ffffff" stroke="#1c1c1c" stroke-width="0.8"/>
<rect x="444" y="403" width="7.51" height="102.5" fill="#bfbfbf" stroke="#1c1c1c" stroke-width="0.8"/>
<rect x="451.5" y="376.2" width="7.51" height="129.3" fill="#000000" stroke="#000" stroke-width="0.3"/>
<path d="M440.24 393.1V415.4M438.44 393.1H442.04M438.44 415.4H442.04" stroke="#7c7c7c" stroke-width="0.7" fill="none"/>
<path d="M447.75 396.5V409.2M445.95 396.5H449.55M445.95 409.2H449.55" stroke="#7c7c7c" stroke-width="0.7" fill="none"/>
<path d="M455.26 366.1V385.8M453.46 366.1H457.06M453.46 385.8H457.06" stroke="#7c7c7c" stroke-width="0.7" fill="none"/>
<rect x="474.79" y="457.4" width="7.51" height="48.1" fill="#ffffff" stroke="#1c1c1c" stroke-width="0.8"/>
<rect x="482.3" y="453.7" width="7.51" height="51.8" fill="#bfbfbf" stroke="#1c1c1c" stroke-width="0.8"/>
<rect x="489.8" y="441.9" width="7.51" height="63.6" fill="#000000" stroke="#000" stroke-width="0.3"/>
<path d="M478.54 453.4V461.3M476.74 453.4H480.34M476.74 461.3H480.34" stroke="#7c7c7c" stroke-width="0.7" fill="none"/>
<path d="M486.05 446.4V460.5M484.25 446.4H487.85M484.25 460.5H487.85" stroke="#7c7c7c" stroke-width="0.7" fill="none"/>
<path d="M493.56 437.4V445.8M491.76 437.4H495.36M491.76 445.8H495.36" stroke="#7c7c7c" stroke-width="0.7" fill="none"/>
<rect x="513.09" y="454.9" width="7.51" height="50.6" fill="#ffffff" stroke="#1c1c1c" stroke-width="0.8"/>
<rect x="520.6" y="448.1" width="7.51" height="57.4" fill="#bfbfbf" stroke="#1c1c1c" stroke-width="0.8"/>
<rect x="528.1" y="429.2" width="7.51" height="76.3" fill="#000000" stroke="#000" stroke-width="0.3"/>
<path d="M516.84 451.5V458M515.04 451.5H518.64M515.04 458H518.64" stroke="#7c7c7c" stroke-width="0.7" fill="none"/>
<path d="M524.35 443V452.9M522.55 443H526.15M522.55 452.9H526.15" stroke="#7c7c7c" stroke-width="0.7" fill="none"/>
<path d="M531.86 421.9V436M530.06 421.9H533.66M530.06 436H533.66" stroke="#7c7c7c" stroke-width="0.7" fill="none"/>
<path d="M313.7 359.7V506" stroke="#868686" stroke-width="1.1" fill="none"/>
<path d="M313.25 505.5H543.5" stroke="#707070" stroke-width="1" fill="none"/>
<text class="tk" transform="translate(307.5 507.8) scale(0.93 1)">0</text>
<text class="tk" transform="translate(307.5 491.57) scale(0.93 1)">10</text>
<text class="tk" transform="translate(307.5 475.33) scale(0.93 1)">20</text>
<text class="tk" transform="translate(307.5 459.1) scale(0.93 1)">30</text>
<text class="tk" transform="translate(307.5 442.87) scale(0.93 1)">40</text>
<text class="tk" transform="translate(307.5 426.63) scale(0.93 1)">50</text>
<text class="tk" transform="translate(307.5 410.4) scale(0.93 1)">60</text>
<text class="tk" transform="translate(307.5 394.17) scale(0.93 1)">70</text>
<text class="tk" transform="translate(307.5 377.93) scale(0.93 1)">80</text>
<text class="tk" transform="translate(307.5 361.7) scale(0.93 1)">90</text>
<text class="lb" transform="translate(332.85 520.1) scale(0.945 1)">Silvija</text>
<text class="lb" transform="translate(371.15 520.1) scale(0.945 1)">Rujana</text>
<text class="lb" transform="translate(409.45 520.1) scale(0.945 1)">Bubnjar</text>
<text class="lb" transform="translate(447.75 520.1) scale(0.945 1)">Fifi</text>
<text class="lb" transform="translate(486.05 520.1) scale(0.945 1)">Anđelka</text>
<text class="lb" transform="translate(524.35 520.1) scale(0.945 1)">Pepeljuga</text>
<text class="ti" textLength="93" lengthAdjust="spacingAndGlyphs" transform="translate(290 448.1) rotate(-90)">GR activity (U/g Proteins)</text>
<text class="tg" x="280.1" y="366.9">(F)</text>
<circle cx="336.85" cy="379.3" r="1.3" fill="#1a1a1a"/>
<circle cx="340.7" cy="379.3" r="1.3" fill="#1a1a1a"/>
<circle cx="344.55" cy="379.3" r="1.3" fill="#1a1a1a"/>
<circle cx="374.95" cy="372.9" r="1.3" fill="#1a1a1a"/>
<circle cx="378.8" cy="372.9" r="1.3" fill="#1a1a1a"/>
<circle cx="382.65" cy="372.9" r="1.3" fill="#1a1a1a"/>
<circle cx="415.07" cy="371.7" r="1.3" fill="#1a1a1a"/>
<circle cx="418.93" cy="371.7" r="1.3" fill="#1a1a1a"/>
<circle cx="451.75" cy="360.4" r="1.3" fill="#1a1a1a"/>
<circle cx="455.6" cy="360.4" r="1.3" fill="#1a1a1a"/>
<circle cx="459.45" cy="360.4" r="1.3" fill="#1a1a1a"/>
<circle cx="488.95" cy="432.3" r="1.3" fill="#1a1a1a"/>
<circle cx="492.8" cy="432.3" r="1.3" fill="#1a1a1a"/>
<circle cx="496.65" cy="432.3" r="1.3" fill="#1a1a1a"/>
<circle cx="527.85" cy="416.8" r="1.3" fill="#1a1a1a"/>
<circle cx="531.7" cy="416.8" r="1.3" fill="#1a1a1a"/>
<circle cx="535.55" cy="416.8" r="1.3" fill="#1a1a1a"/>
</g>
<g id="legend">
<rect x="495.0" y="23.1" width="4.6" height="4.6" fill="#ffffff" stroke="#1c1c1c" stroke-width="0.7"/>
<text class="lg" x="502.1" y="28.3" textLength="26.7" lengthAdjust="spacingAndGlyphs">Control</text>
<rect x="495.0" y="37.9" width="4.6" height="4.6" fill="#bfbfbf" stroke="#1c1c1c" stroke-width="0.7"/>
<text class="lg" x="502.1" y="43.1" textLength="32" lengthAdjust="spacingAndGlyphs">10% PEG</text>
<rect x="495.0" y="52.9" width="4.6" height="4.6" fill="#000000" stroke="#1c1c1c" stroke-width="0.7"/>
<text class="lg" x="502.1" y="58.1" textLength="32" lengthAdjust="spacingAndGlyphs">20% PEG</text>
</g>
</svg>
</body></html>
